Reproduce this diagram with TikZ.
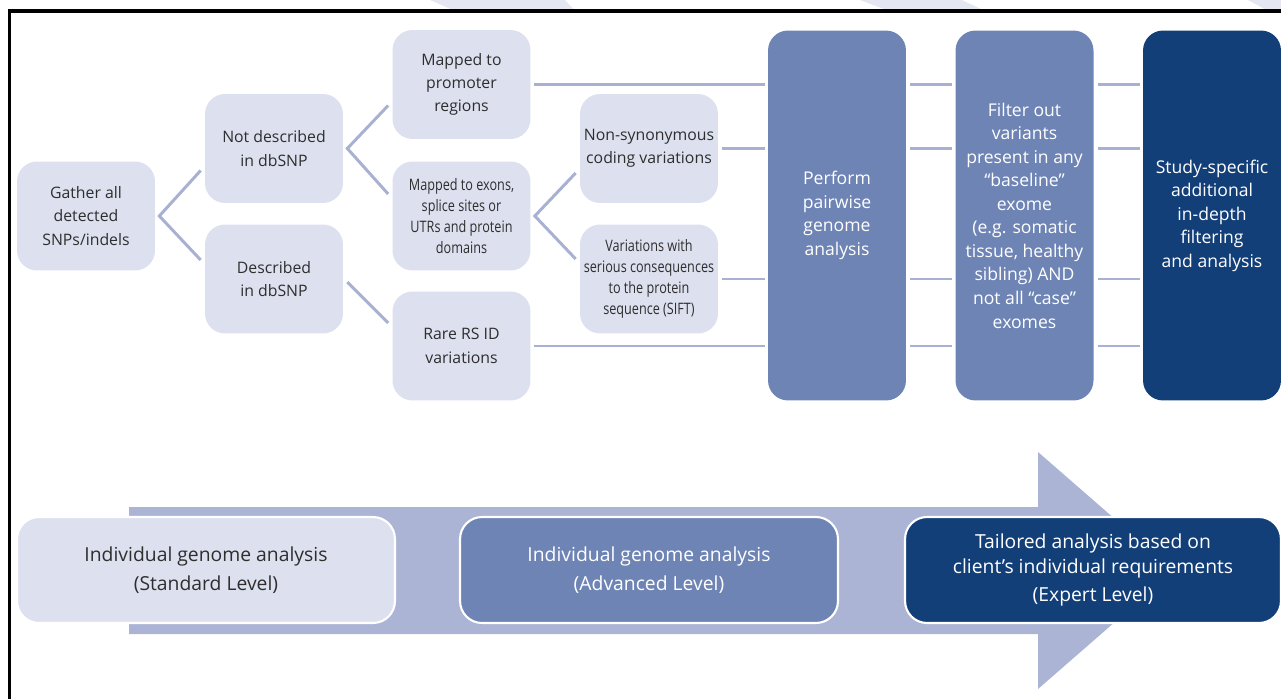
\documentclass[tikz,border=0pt]{standalone}
\usepackage{fontspec}
\setmainfont{Open Sans}
\newfontfamily\narrowsans{Open Sans}[FakeStretch=0.8]
\usetikzlibrary{calc}
\definecolor{lite}{HTML}{DDE1EF}
\definecolor{mid}{HTML}{6E84B4}
\definecolor{navy}{HTML}{133F79}
\definecolor{band}{HTML}{ACB4D6}
\definecolor{edge}{HTML}{A9B1D3}
\definecolor{txt}{HTML}{2E2E2E}
\definecolor{streak}{HTML}{E4E7F2}
\tikzset{
  n/.style={rounded corners=0.4cm, align=center, inner sep=2pt, minimum width=2.76cm, minimum height=2.18cm, font={\fontsize{9}{13.3}\selectfont}},
  nl/.style={n, fill=lite, text=txt},
  nn/.style={nl, font={\narrowsans\fontsize{9}{12}\selectfont}},
  col/.style={n, minimum height=7.4cm, text=white, font={\fontsize{10}{13.4}\selectfont}},
  colmid/.style={col, fill=mid},
  coldark/.style={col, fill=navy},
  lvl/.style={draw=white, line width=1.2pt, rounded corners=0.44cm, align=center, minimum width=7.56cm, minimum height=2.12cm, font={\fontsize{11}{16.5}\selectfont}},
  ln/.style={draw=edge, line width=1.7pt},
}

\begin{document}
\begin{tikzpicture}[x=0.02cm, y=-0.02cm]
\useasboundingbox (0,0) rectangle (1281,699);

% ---- streaks above the frame ----
\fill[streak] (430,0) -- (565,0) -- (575,11) -- (455,11) -- cycle;
\fill[streak] (860,0) -- (962,0) -- (985,11) -- (889,11) -- cycle;
\fill[streak] (1248,0) -- (1281,0) -- (1281,11) -- (1268,11) -- cycle;

% ---- frame ----
\draw[line width=2pt] (9.5,710) -- (9.5,11) -- (1290,11);

% ---- level arrow ----
\fill[band] (129,507) -- (1038,507) -- (1038,452) -- (1174,570.5) -- (1038,689) -- (1038,634) -- (129,634) -- cycle;

% ---- level boxes ----
\node[lvl, fill=lite, text=txt] (std) at (206,570) {Individual genome analysis\\(Standard Level)};
\node[lvl, fill=mid, text=white] (adv) at (649,570) {Individual genome analysis\\(Advanced Level)};
\node[lvl, fill=navy, text=white, minimum width=7.52cm] (exp) at (1093,570) {Tailored analysis based on\\[-2.8pt]client’s individual requirements\\[-0.5pt](Expert Level)};

% ---- tree ----
\node[nl] (gather) at (86,216)    {Gather all\\detected\\SNPs/indels};
\node[nl] (nodsc)  at (274,148.5) {Not described\\in dbSNP};
\node[nl] (dsc)    at (274,279)   {Described\\in dbSNP};
\node[nl] (prom)   at (461.5,84.5) {Mapped to\\promoter\\regions};
\node[nn] (exon)   at (461.5,216)  {Mapped to exons,\\splice sites or\\UTRs and protein\\domains};
\node[nl] (rare)   at (461.5,346)  {Rare RS ID\\variations};
\node[nl] (nsyn)   at (649,148.5)  {Non-synonymous\\coding variations};
\node[nn] (sift)   at (649,279)    {Variations with\\serious consequences\\to the protein\\sequence (SIFT)};

% ---- columns ----
\node[colmid]  (pair)  at (837,215.5)    {Perform\\pairwise\\genome\\analysis};
\node[colmid]  (filt)  at (1024.5,215.5) {Filter out\\variants\\present in any\\“baseline”\\exome\\(e.g. somatic\\tissue, healthy\\sibling) AND\\not all “case”\\exomes};
\node[coldark] (study) at (1212,215.5)   {Study-specific\\additional\\in-depth\\filtering\\and analysis};

% ---- edges ----
\draw[ln] ($(nodsc.west)+(-4,22)$) -- ($(gather.east)+(4,0)$) -- ($(dsc.west)+(-4,-19)$);
\draw[ln] ($(prom.west)+(-4,21)$) -- ($(nodsc.east)+(4,0)$) -- ($(exon.west)+(-4,-22)$);
\draw[ln] ($(dsc.east)+(4,3)$) -- ($(rare.west)+(-4,-23)$);
\draw[ln] ($(nsyn.west)+(-4,24.5)$) -- ($(exon.east)+(4,0)$) -- ($(sift.west)+(-4,-20)$);

\draw[ln] ($(prom.east)+(3,0)$) -- ($(pair.west|-prom.east)+(-3,0)$);
\draw[ln] ($(nsyn.east)+(4,0)$) -- ($(pair.west|-nsyn.east)+(-3,0)$);
\draw[ln] ($(sift.east)+(4,0)$) -- ($(pair.west|-sift.east)+(-3,0)$);
\draw[ln] ($(rare.east)+(3,0)$) -- ($(pair.west|-rare.east)+(-3,0)$);

\draw[ln] ($(pair.east|-prom.east)+(4,0)$) -- ($(filt.west|-prom.east)+(-3,0)$);
\draw[ln] ($(pair.east|-nsyn.east)+(4,0)$) -- ($(filt.west|-nsyn.east)+(-3,0)$);
\draw[ln] ($(pair.east|-sift.east)+(4,0)$) -- ($(filt.west|-sift.east)+(-3,0)$);
\draw[ln] ($(pair.east|-rare.east)+(4,0)$) -- ($(filt.west|-rare.east)+(-3,0)$);

\draw[ln] ($(filt.east|-prom.east)+(4,0)$) -- ($(study.west|-prom.east)+(-3,0)$);
\draw[ln] ($(filt.east|-nsyn.east)+(4,0)$) -- ($(study.west|-nsyn.east)+(-3,0)$);
\draw[ln] ($(filt.east|-sift.east)+(4,0)$) -- ($(study.west|-sift.east)+(-3,0)$);
\draw[ln] ($(filt.east|-rare.east)+(4,0)$) -- ($(study.west|-rare.east)+(-3,0)$);
\end{tikzpicture}
\end{document}
